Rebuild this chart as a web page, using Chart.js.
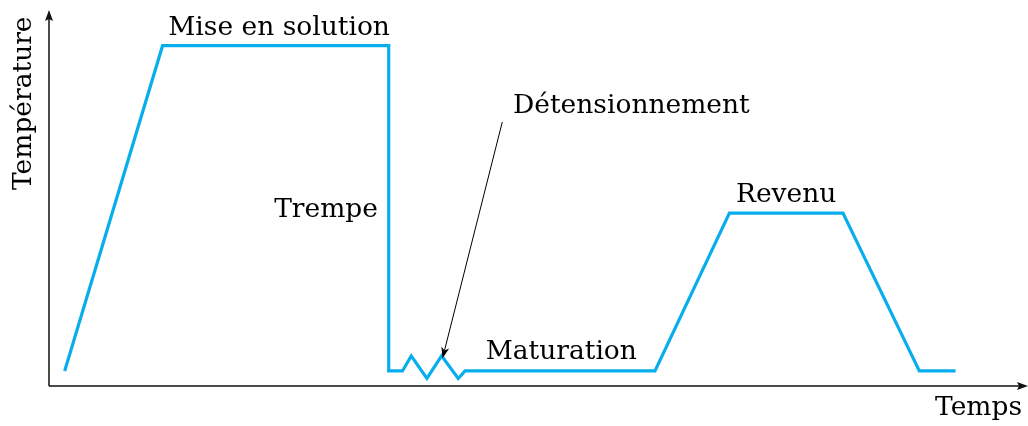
<!DOCTYPE html>
<html>
<head>
<meta charset="utf-8">
<script src="https://cdn.jsdelivr.net/npm/chart.js@4/dist/chart.umd.min.js"></script>
<style>
  html, body { margin: 0; padding: 0; background: #fff; }
  #c { display: block; }
</style>
</head>
<body>
<canvas id="c" width="1028" height="426" style="width:1028px;height:426px"></canvas>
<script>
// Schematic heat-treatment cycle (arbitrary units 0..100)
const times = [1.6, 11.6, 34.7, 34.7, 36.1, 37.0, 38.6, 40.1, 41.8, 42.5, 61.9, 69.5, 81.1, 88.9, 92.6];
const temps = [4.0, 90.5, 90.5, 4.0, 4.0, 8.0, 2.0, 8.0, 2.0, 4.0, 4.0, 46.0, 46.0, 4.0, 4.0];
const stageLabels = ['Mise en solution', 'Trempe', 'Détensionnement', 'Maturation', 'Revenu'];
const axisTitles = { x: 'Temps', y: 'Température' };

const FONT = '26.5px "DejaVu Serif", serif';

const annotPlugin = {
  id: 'annot',
  afterDraw(chart) {
    const ctx = chart.ctx;
    const a = chart.chartArea;
    const xs = chart.scales.x, ys = chart.scales.y;
    const px = v => xs.getPixelForValue(v);
    const py = v => ys.getPixelForValue(v);
    ctx.save();
    // axes
    ctx.strokeStyle = '#111';
    ctx.fillStyle = '#111';
    ctx.lineWidth = 1.5;
    ctx.beginPath();
    ctx.moveTo(a.left, a.bottom);
    ctx.lineTo(a.right - 8, a.bottom);
    ctx.moveTo(a.left, a.bottom);
    ctx.lineTo(a.left, a.top + 8);
    ctx.stroke();
    // arrowheads
    ctx.beginPath();
    ctx.moveTo(a.right, a.bottom);
    ctx.lineTo(a.right - 11, a.bottom - 4);
    ctx.lineTo(a.right - 9, a.bottom);
    ctx.lineTo(a.right - 11, a.bottom + 4);
    ctx.closePath();
    ctx.fill();
    ctx.beginPath();
    ctx.moveTo(a.left, a.top);
    ctx.lineTo(a.left - 4, a.top + 11);
    ctx.lineTo(a.left, a.top + 9);
    ctx.lineTo(a.left + 4, a.top + 11);
    ctx.closePath();
    ctx.fill();

    // texts
    ctx.font = FONT;
    ctx.fillStyle = '#000';
    ctx.textBaseline = 'alphabetic';
    const pos = [
      { x: 23.5, y: 93.4, align: 'center' },
      { x: 33.6, y: 44.9, align: 'right' },
      { x: 47.4, y: 72.6, align: 'left' },
      { x: 44.6, y: 7.2, align: 'left' },
      { x: 75.3, y: 48.9, align: 'center' }
    ];
    stageLabels.forEach((t, i) => {
      ctx.textAlign = pos[i].align;
      ctx.fillText(t, px(pos[i].x), py(pos[i].y));
    });
    // axis titles
    ctx.textAlign = 'right';
    ctx.fillText(axisTitles.x, a.right - 6, a.bottom + 29);
    ctx.save();
    ctx.translate(a.left - 18, py(75.2));
    ctx.rotate(-Math.PI / 2);
    ctx.textAlign = 'center';
    ctx.fillText(axisTitles.y, 0, 0);
    ctx.restore();

    // pointer arrow to "Détensionnement"
    const x0 = px(46.3), y0 = py(70.2), x1 = px(40.2), y1 = py(7.4);
    const ang = Math.atan2(y1 - y0, x1 - x0);
    ctx.strokeStyle = '#000';
    ctx.fillStyle = '#000';
    ctx.lineWidth = 1;
    ctx.beginPath();
    ctx.moveTo(x0, y0);
    ctx.lineTo(x1 - 8 * Math.cos(ang), y1 - 8 * Math.sin(ang));
    ctx.stroke();
    ctx.beginPath();
    ctx.moveTo(x1, y1);
    ctx.lineTo(x1 - 11 * Math.cos(ang) + 4 * Math.sin(ang), y1 - 11 * Math.sin(ang) - 4 * Math.cos(ang));
    ctx.lineTo(x1 - 8 * Math.cos(ang), y1 - 8 * Math.sin(ang));
    ctx.lineTo(x1 - 11 * Math.cos(ang) - 4 * Math.sin(ang), y1 - 11 * Math.sin(ang) + 4 * Math.cos(ang));
    ctx.closePath();
    ctx.fill();
    ctx.restore();
  }
};

new Chart(document.getElementById('c'), {
  type: 'line',
  data: {
    datasets: [{
      data: times.map((t, i) => ({ x: t, y: temps[i] })),
      borderColor: '#08AEEC',
      borderWidth: 3.2,
      pointRadius: 0,
      tension: 0,
      fill: false,
      clip: false,
      borderJoinStyle: 'miter'
    }]
  },
  options: {
    responsive: false,
    animation: false,
    layout: { padding: { left: 49, right: 0, top: 10, bottom: 40 } },
    scales: {
      x: { type: 'linear', min: 0, max: 100, display: false },
      y: { type: 'linear', min: 0, max: 100, display: false }
    },
    plugins: { legend: { display: false }, tooltip: { enabled: false } },
    events: []
  },
  plugins: [annotPlugin]
});
</script>
</body>
</html>
